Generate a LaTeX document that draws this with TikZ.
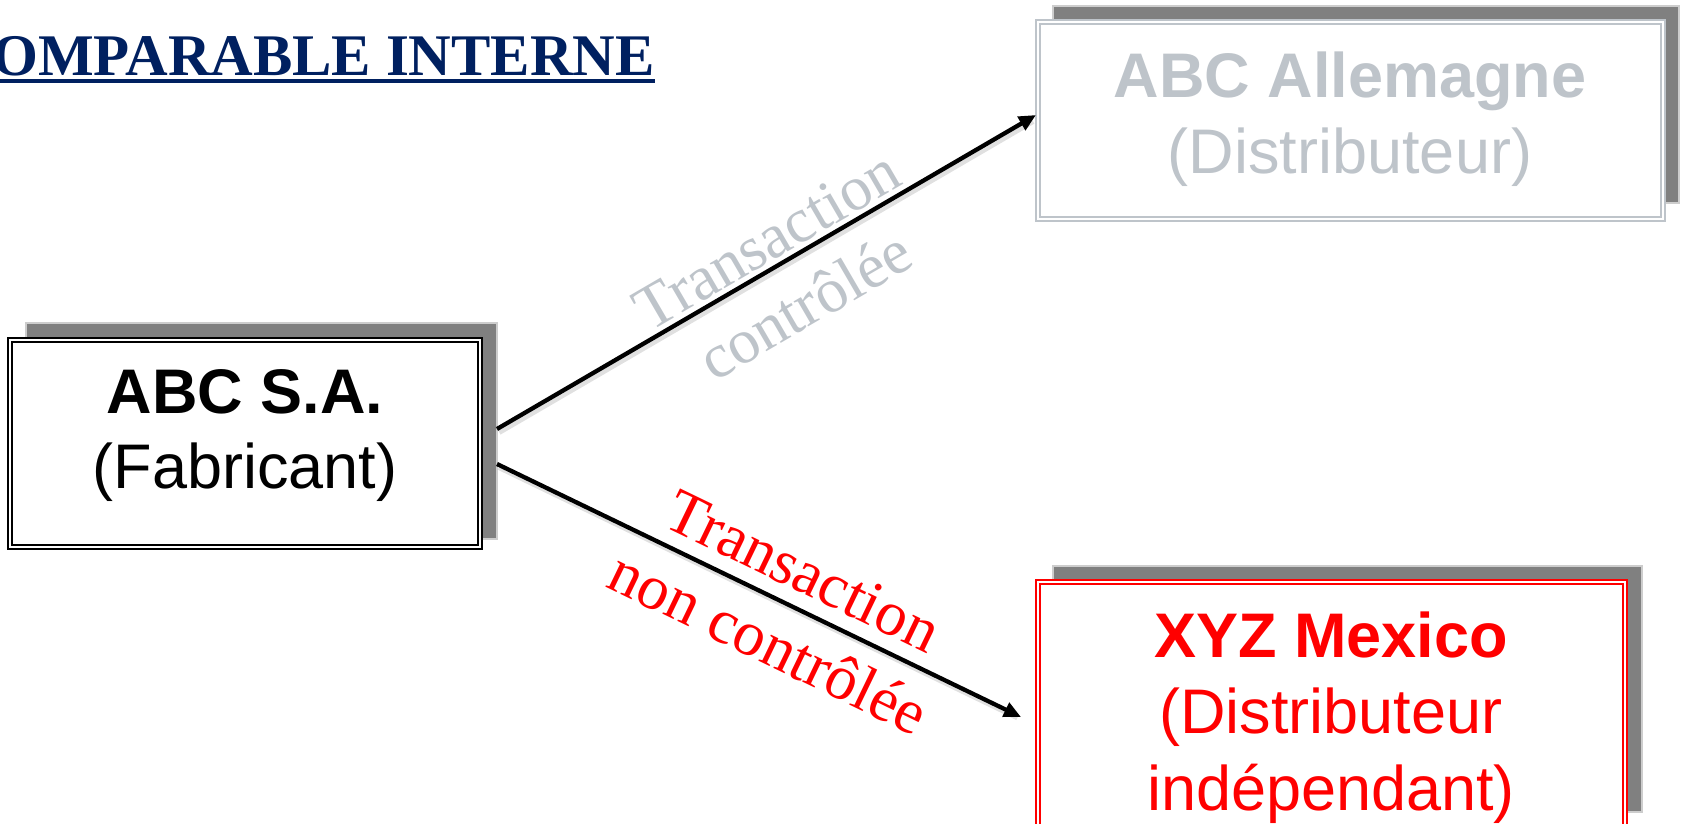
\documentclass[tikz,border=0pt]{standalone}
\usepackage{fontspec}
\setmainfont{Liberation Serif}
\newfontfamily\arialf{Liberation Sans}
\usetikzlibrary{arrows.meta,calc}
\definecolor{navy}{RGB}{0,32,96}
\definecolor{palegray}{RGB}{190,196,202}
\definecolor{shadowgray}{RGB}{128,128,128}
\definecolor{shadowedge}{RGB}{205,205,205}
\definecolor{mred}{RGB}{255,0,0}
\begin{document}
\begin{tikzpicture}[x=1pt,y=-1pt,
  shadowbox/.style={draw=shadowedge, fill=shadowgray, line width=1.2pt, inner sep=0pt, outer sep=0pt},
  mainbox/.style={fill=white, double=white, double distance=2.4pt, line width=1.5pt, inner sep=0pt, outer sep=0pt},
  boldline/.style={font=\arialf\bfseries\fontsize{63}{75}\selectfont, anchor=base, inner sep=0pt},
  plainline/.style={font=\arialf\fontsize{63}{75}\selectfont, anchor=base, inner sep=0pt},
  lbl/.style={align=center, inner sep=0pt},
  arr/.style={line width=4.3pt, -{Triangle[length=17pt,width=15pt]}},
  arrshadow/.style={line width=6pt, draw=black, opacity=0.12, shorten >=6pt},
]
\useasboundingbox (0,0) rectangle (1683,823);

% title
\node[anchor=base west, inner sep=0pt, font=\bfseries\fontsize{59}{62}\selectfont, text=navy] (title) at (-8,75) {OMPARABLE INTERNE};
\draw[navy, line width=3.8pt] ([yshift=-6pt]title.base west) -- ([yshift=-6pt]title.base east);

% ABC S.A.
\node[shadowbox, minimum width=471pt, minimum height=216pt] (abcsh) at (261.5,431) {};
\node[mainbox, draw=black, minimum width=470pt, minimum height=207pt] (abc) at (245,443.5) {};
\node[boldline] (abct1) at (245,413) {ABC S.A.};
\node[plainline] (abct2) at (245,488) {(Fabricant)};

% ABC Allemagne
\node[shadowbox, minimum width=626pt, minimum height=197pt] (allemsh) at (1366,104.5) {};
\node[mainbox, draw=palegray, minimum width=625pt, minimum height=197pt] (allem) at (1350.5,120.5) {};
\node[boldline, text=palegray] (allemt1) at (1350,97) {ABC Allemagne};
\node[plainline, text=palegray] (allemt2) at (1350,173) {(Distributeur)};

% XYZ Mexico
\node[shadowbox, minimum width=589pt, minimum height=246pt] (xyzsh) at (1347.5,689) {};
\node[mainbox, draw=mred, minimum width=587pt, minimum height=246pt] (xyz) at (1331.5,705) {};
\node[boldline, text=mred] (xyzt1) at (1331,657) {XYZ Mexico};
\node[plainline, text=mred] (xyzt2) at (1331,733) {(Distributeur};
\node[plainline, text=mred] (xyzt3) at (1331,810) {indépendant)};

% arrows (soft shadow, then arrow)
\draw[arrshadow] ([xshift=2pt,yshift=-1pt]abcsh.east) -- ([xshift=0pt,yshift=2.5pt]allem.west);
\draw[arrshadow] ([xshift=2pt,yshift=-36pt]abcsh.east) -- ([xshift=-15pt,yshift=-15pt]xyz.west);
\draw[arr] ([yshift=2pt]abcsh.east) -- ([xshift=-2pt,yshift=5.5pt]allem.west);
\draw[arr] ([yshift=-33pt]abcsh.east) -- ([xshift=-17pt,yshift=-12pt]xyz.west);

% labels
\node[lbl, text=palegray, font=\fontsize{63}{76}\selectfont, rotate=30.2] (lab1) at (786,273) {Transaction\\contrôlée};
\node[lbl, text=mred, font=\fontsize{63}{80}\selectfont, rotate=-25.8] (lab2) at (786,607) {Transaction\\non contrôlée};
\end{tikzpicture}
\end{document}
